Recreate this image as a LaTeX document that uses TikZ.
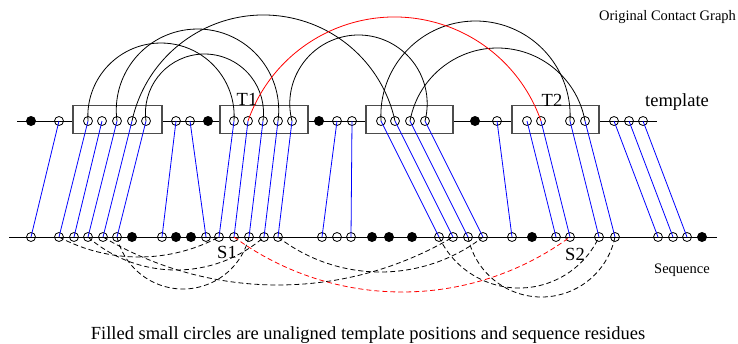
\documentclass[tikz,border=0pt]{standalone}
\usepackage{fontspec}
\setmainfont{Liberation Serif}
\usetikzlibrary{calc}
\tikzset{
  oc/.style={circle, draw, line width=0.8pt, inner sep=0pt, minimum size=9pt},
  fc/.style={circle, fill, inner sep=0pt, minimum size=10pt},
  tbox/.style={draw=black!70, line width=1.2pt, fill=white, inner sep=0pt, minimum height=28pt},
  bl/.style={blue, line width=0.8pt},
  ar/.style={line width=0.8pt},
  da/.style={dash pattern=on 5pt off 3pt, line width=0.8pt},
  lbl/.style={font=\fontsize{18.5}{22}\selectfont, inner sep=0pt},
  sml/.style={font=\fontsize{14.5}{17}\selectfont, inner sep=0pt},
}
% arc above: #2,#3 node names, #4 height of apex above the end points
\newcommand\uparc[4][]{%
  \draw[ar,#1] let \p1=(#2.center), \p2=(#3.center),
    \n1={(\x2-\x1)/20}, \n2={#4/10},
    \n3={(\n1*\n1+\n2*\n2)/(2*\n2)},
    \n4={atan2(\n3-\n2,\n1)}
  in (\p1) arc[start angle={180-\n4}, end angle={\n4}, radius={\n3*10pt}];}
% arc below
\newcommand\downarc[4][]{%
  \draw[da,#1] let \p1=(#2.center), \p2=(#3.center),
    \n1={(\x2-\x1)/20}, \n2={#4/10},
    \n3={(\n1*\n1+\n2*\n2)/(2*\n2)},
    \n4={atan2(\n3-\n2,\n1)}
  in (\p1) arc[start angle={\n4-180}, end angle={-\n4}, radius={\n3*10pt}];}
\begin{document}
\begin{tikzpicture}[x=1pt,y=1pt]
\useasboundingbox (0,0) rectangle (738,-343);
% base lines
\coordinate (tl) at (17,-121);
\coordinate (tr) at (657,-121);
\coordinate (sl) at (9,-237);
\coordinate (sr) at (717,-237);
\draw[line width=0.8pt] (tl) -- (tr);
\draw[line width=0.8pt] (sl) -- (sr);
% template boxes
\node[tbox, minimum width=89pt] (b1) at (117.5,-119.7) {};
\node[tbox, minimum width=88pt] (b2) at (264,-119.7) {};
\node[tbox, minimum width=87pt] (b3) at (409.5,-119.7) {};
\node[tbox, minimum width=87pt] (b4) at (555.5,-119.7) {};
% template positions
\foreach \x in {59,88,102,117,132,146,176,190,234,248,263,278,292,337,352,381,395,410,425,497,527,541,570,585,614,629,643}
  \node[oc] (t\x) at (\x,-121) {};
\foreach \x in {31,208,319,475}
  \node[fc] (t\x) at (\x,-121) {};
% sequence residues
\foreach \x in {31,59,74,88,103,117,162,206,219,234,249,264,278,322,337,351,439,453,468,483,512,556,570,599,615,658,673,687}
  \node[oc] (s\x) at (\x,-237) {};
\foreach \x in {132,176,191,372,389,412,532,702}
  \node[fc] (s\x) at (\x,-237) {};
% alignment
\foreach \a/\b in {59/31,88/59,102/74,117/88,132/103,146/117,176/162,190/206,234/219,248/234,263/249,278/264,292/278,337/322,352/351,381/439,395/453,410/468,425/483,497/512,527/556,541/570,570/599,585/615,614/658,629/673,643/687}
  \draw[bl] (t\a.center) -- (s\b.center);
% contacts on the template
\uparc{t88}{t234}{78}
\uparc{t117}{t278}{92}
\uparc{t146}{t263}{67}
\uparc{t132}{t395}{106}
\uparc{t292}{t425}{86}
\uparc{t381}{t570}{100}
\uparc{t410}{t585}{73}
\uparc[red]{t248}{t541}{104}
% contacts on the sequence
\downarc{s59}{s219}{20}
\downarc{s88}{s264}{33}
\downarc{s117}{s249}{52}
\downarc{s103}{s453}{48}
\downarc{s278}{s483}{35}
\downarc{s439}{s599}{51}
\downarc{s468}{s615}{60}
\downarc[red]{s234}{s570}{55}
% labels
\node[lbl, anchor=base] (T1) at (247,-105) {T1};
\node[lbl, anchor=base] (T2) at (552,-106) {T2};
\node[lbl, anchor=base] (tmpl) at (677,-106) {template};
\node[lbl, anchor=base] (S1) at (227,-258) {S1};
\node[lbl, anchor=base] (S2) at (575,-260) {S2};
\node[sml, anchor=base] (seq) at (682,-273) {Sequence};
\node[sml, anchor=base] (ocg) at (667.5,-20) {Original Contact Graph};
\node[lbl, anchor=base] (cap) at (368,-339) {Filled small circles are unaligned template positions and sequence residues};
\end{tikzpicture}
\end{document}
